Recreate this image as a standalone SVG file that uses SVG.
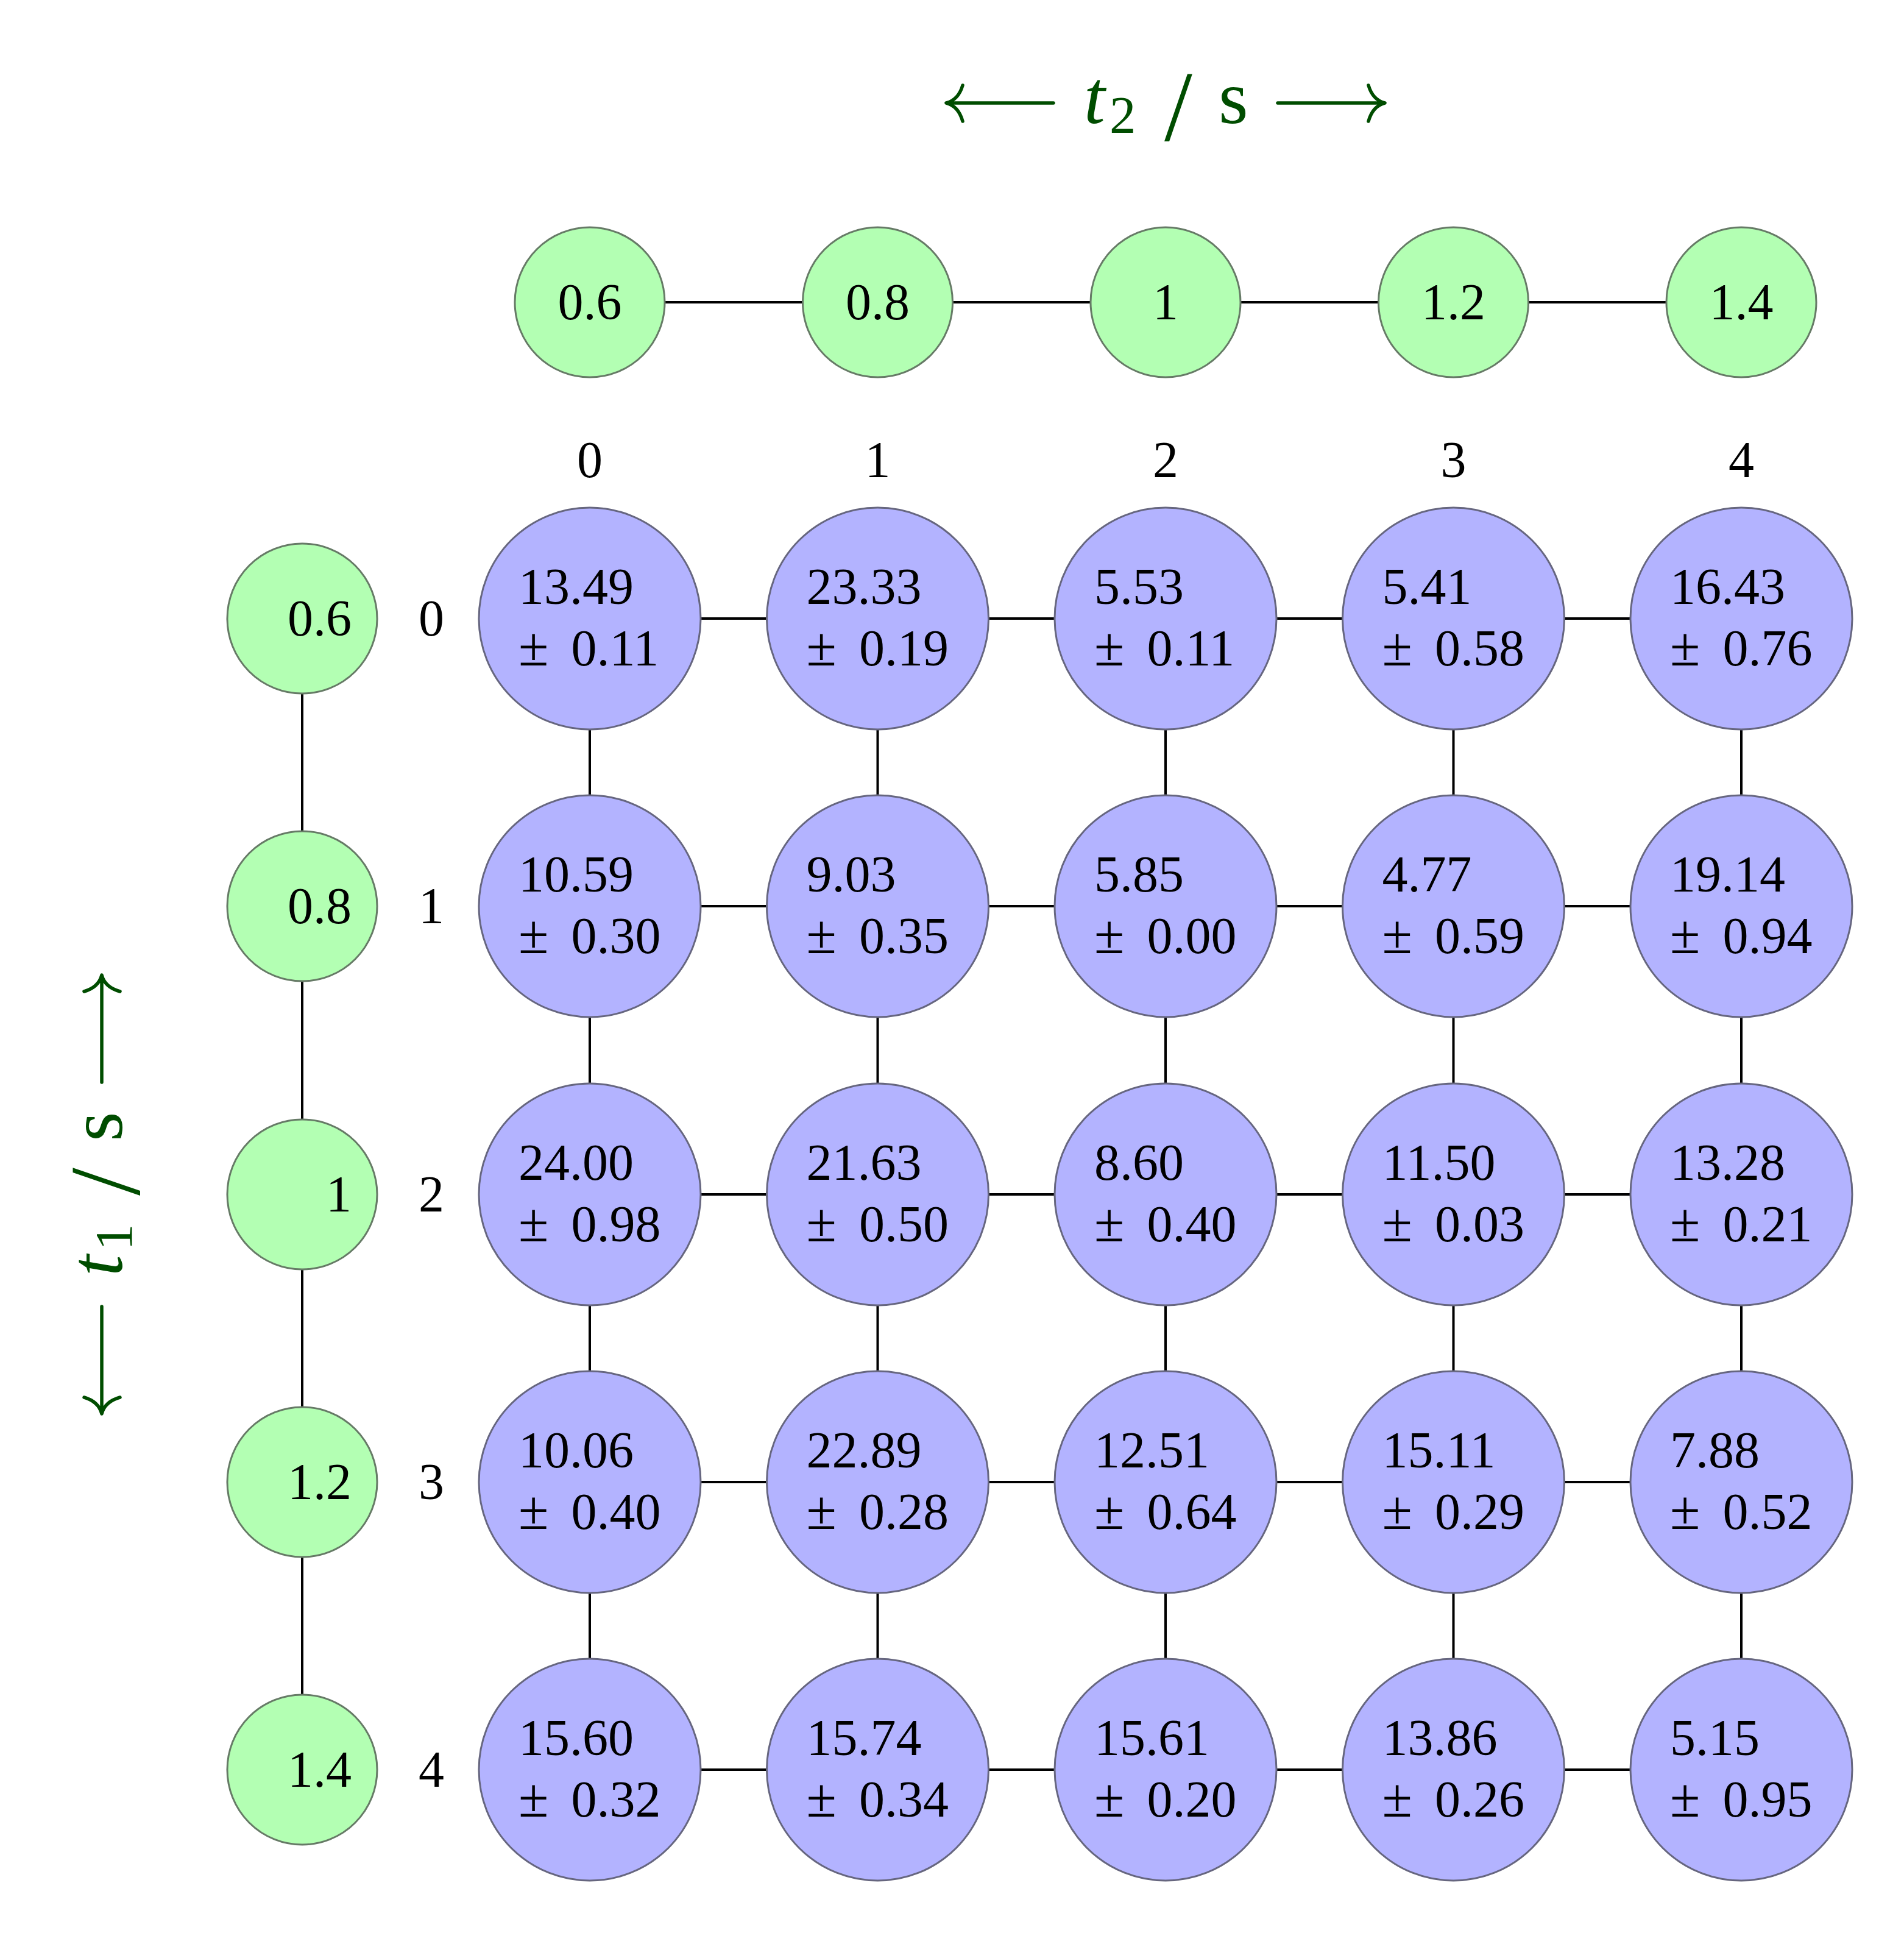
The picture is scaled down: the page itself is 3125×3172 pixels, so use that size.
<svg xmlns="http://www.w3.org/2000/svg" width="3125" height="3172" viewBox="0 0 3125 3172">
<style>
.bg{fill:#ffffff}
.edge{stroke:#000000;stroke-width:4;fill:none}
.gn{fill:#b3ffb3;stroke:#667a66;stroke-width:3}
.bn{fill:#b3b3ff;stroke:#66667f;stroke-width:3}
.t{font-family:"Liberation Serif","Times New Roman",serif;font-size:84px;fill:#000000}
.c{text-anchor:middle}
.e{text-anchor:end}
.pm{font-size:90px}
.ax{font-family:"Liberation Serif","Times New Roman",serif;font-size:125px;fill:#004d00}
.arr{stroke:#004d00;stroke-width:5.5;fill:none;stroke-linecap:round;stroke-linejoin:round}
</style>
<rect class="bg" x="0" y="0" width="3125" height="3172"/>

<g id="axis-t2" transform="translate(1913,202)">
<path class="arr" d="M-184,-33 L-358,-33 M-333,-62 Q-340,-38 -360,-33 Q-340,-28 -333,-3"/>
<text class="ax"><tspan x="-134" y="0" font-style="italic">t</tspan><tspan x="-92" y="16" font-size="87">2</tspan><tspan x="-2" y="28" font-size="165">/</tspan><tspan x="87" y="0">s</tspan></text>
<path class="arr" d="M184,-33 L358,-33 M333,-62 Q340,-38 360,-33 Q340,-28 333,-3"/>
</g>
<g id="axis-t1" transform="translate(200,1960) rotate(-90)">
<path class="arr" d="M-184,-33 L-358,-33 M-333,-62 Q-340,-38 -360,-33 Q-340,-28 -333,-3"/>
<text class="ax"><tspan x="-134" y="0" font-style="italic">t</tspan><tspan x="-92" y="16" font-size="87">1</tspan><tspan x="-2" y="28" font-size="165">/</tspan><tspan x="87" y="0">s</tspan></text>
<path class="arr" d="M184,-33 L358,-33 M333,-62 Q340,-38 360,-33 Q340,-28 333,-3"/>
</g>

<g id="connectors">
<line class="edge" x1="1091" y1="496" x2="1317.5" y2="496"/>
<line class="edge" x1="1563.5" y1="496" x2="1790" y2="496"/>
<line class="edge" x1="2036" y1="496" x2="2262.5" y2="496"/>
<line class="edge" x1="2508.5" y1="496" x2="2735" y2="496"/>
<line class="edge" x1="496" y1="1138" x2="496" y2="1364"/>
<line class="edge" x1="496" y1="1610" x2="496" y2="1837"/>
<line class="edge" x1="496" y1="2083" x2="496" y2="2309"/>
<line class="edge" x1="496" y1="2555" x2="496" y2="2781"/>
<line class="edge" x1="1150" y1="1015" x2="1258.5" y2="1015"/>
<line class="edge" x1="1622.5" y1="1015" x2="1731" y2="1015"/>
<line class="edge" x1="2095" y1="1015" x2="2203.5" y2="1015"/>
<line class="edge" x1="2567.5" y1="1015" x2="2676" y2="1015"/>
<line class="edge" x1="1150" y1="1487" x2="1258.5" y2="1487"/>
<line class="edge" x1="1622.5" y1="1487" x2="1731" y2="1487"/>
<line class="edge" x1="2095" y1="1487" x2="2203.5" y2="1487"/>
<line class="edge" x1="2567.5" y1="1487" x2="2676" y2="1487"/>
<line class="edge" x1="1150" y1="1960" x2="1258.5" y2="1960"/>
<line class="edge" x1="1622.5" y1="1960" x2="1731" y2="1960"/>
<line class="edge" x1="2095" y1="1960" x2="2203.5" y2="1960"/>
<line class="edge" x1="2567.5" y1="1960" x2="2676" y2="1960"/>
<line class="edge" x1="1150" y1="2432" x2="1258.5" y2="2432"/>
<line class="edge" x1="1622.5" y1="2432" x2="1731" y2="2432"/>
<line class="edge" x1="2095" y1="2432" x2="2203.5" y2="2432"/>
<line class="edge" x1="2567.5" y1="2432" x2="2676" y2="2432"/>
<line class="edge" x1="1150" y1="2904" x2="1258.5" y2="2904"/>
<line class="edge" x1="1622.5" y1="2904" x2="1731" y2="2904"/>
<line class="edge" x1="2095" y1="2904" x2="2203.5" y2="2904"/>
<line class="edge" x1="2567.5" y1="2904" x2="2676" y2="2904"/>
<line class="edge" x1="968" y1="1197" x2="968" y2="1305"/>
<line class="edge" x1="968" y1="1669" x2="968" y2="1778"/>
<line class="edge" x1="968" y1="2142" x2="968" y2="2250"/>
<line class="edge" x1="968" y1="2614" x2="968" y2="2722"/>
<line class="edge" x1="1440.5" y1="1197" x2="1440.5" y2="1305"/>
<line class="edge" x1="1440.5" y1="1669" x2="1440.5" y2="1778"/>
<line class="edge" x1="1440.5" y1="2142" x2="1440.5" y2="2250"/>
<line class="edge" x1="1440.5" y1="2614" x2="1440.5" y2="2722"/>
<line class="edge" x1="1913" y1="1197" x2="1913" y2="1305"/>
<line class="edge" x1="1913" y1="1669" x2="1913" y2="1778"/>
<line class="edge" x1="1913" y1="2142" x2="1913" y2="2250"/>
<line class="edge" x1="1913" y1="2614" x2="1913" y2="2722"/>
<line class="edge" x1="2385.5" y1="1197" x2="2385.5" y2="1305"/>
<line class="edge" x1="2385.5" y1="1669" x2="2385.5" y2="1778"/>
<line class="edge" x1="2385.5" y1="2142" x2="2385.5" y2="2250"/>
<line class="edge" x1="2385.5" y1="2614" x2="2385.5" y2="2722"/>
<line class="edge" x1="2858" y1="1197" x2="2858" y2="1305"/>
<line class="edge" x1="2858" y1="1669" x2="2858" y2="1778"/>
<line class="edge" x1="2858" y1="2142" x2="2858" y2="2250"/>
<line class="edge" x1="2858" y1="2614" x2="2858" y2="2722"/>
</g>

<g id="top-t2-nodes">
<g id="t2-0"><circle class="gn" cx="968" cy="496" r="123"/><text class="t c" x="968" y="524">0.6</text></g>
<g id="t2-1"><circle class="gn" cx="1440.5" cy="496" r="123"/><text class="t c" x="1440.5" y="524">0.8</text></g>
<g id="t2-2"><circle class="gn" cx="1913" cy="496" r="123"/><text class="t c" x="1913" y="524">1</text></g>
<g id="t2-3"><circle class="gn" cx="2385.5" cy="496" r="123"/><text class="t c" x="2385.5" y="524">1.2</text></g>
<g id="t2-4"><circle class="gn" cx="2858" cy="496" r="123"/><text class="t c" x="2858" y="524">1.4</text></g>
</g>

<g id="left-t1-nodes">
<g id="t1-0"><circle class="gn" cx="496" cy="1015" r="123"/><text class="t e" x="577" y="1043">0.6</text></g>
<g id="t1-1"><circle class="gn" cx="496" cy="1487" r="123"/><text class="t e" x="577" y="1515">0.8</text></g>
<g id="t1-2"><circle class="gn" cx="496" cy="1960" r="123"/><text class="t e" x="577" y="1988">1</text></g>
<g id="t1-3"><circle class="gn" cx="496" cy="2432" r="123"/><text class="t e" x="577" y="2460">1.2</text></g>
<g id="t1-4"><circle class="gn" cx="496" cy="2904" r="123"/><text class="t e" x="577" y="2932">1.4</text></g>
</g>

<g id="column-labels">
<text class="t c" x="968" y="783">0</text>
<text class="t c" x="1440.5" y="783">1</text>
<text class="t c" x="1913" y="783">2</text>
<text class="t c" x="2385.5" y="783">3</text>
<text class="t c" x="2858" y="783">4</text>
</g>
<g id="row-labels">
<text class="t c" x="708" y="1043">0</text>
<text class="t c" x="708" y="1515">1</text>
<text class="t c" x="708" y="1988">2</text>
<text class="t c" x="708" y="2460">3</text>
<text class="t c" x="708" y="2932">4</text>
</g>

<g id="grid-nodes">
<g id="n-0-0"><circle class="bn" cx="968" cy="1015" r="182"/><text class="t" x="851" y="991">13.49</text><text class="t" x="851" y="1092"><tspan class="pm">±</tspan><tspan dx="16"> 0.11</tspan></text></g>
<g id="n-0-1"><circle class="bn" cx="1440.5" cy="1015" r="182"/><text class="t" x="1323.5" y="991">23.33</text><text class="t" x="1323.5" y="1092"><tspan class="pm">±</tspan><tspan dx="16"> 0.19</tspan></text></g>
<g id="n-0-2"><circle class="bn" cx="1913" cy="1015" r="182"/><text class="t" x="1796" y="991">5.53</text><text class="t" x="1796" y="1092"><tspan class="pm">±</tspan><tspan dx="16"> 0.11</tspan></text></g>
<g id="n-0-3"><circle class="bn" cx="2385.5" cy="1015" r="182"/><text class="t" x="2268.5" y="991">5.41</text><text class="t" x="2268.5" y="1092"><tspan class="pm">±</tspan><tspan dx="16"> 0.58</tspan></text></g>
<g id="n-0-4"><circle class="bn" cx="2858" cy="1015" r="182"/><text class="t" x="2741" y="991">16.43</text><text class="t" x="2741" y="1092"><tspan class="pm">±</tspan><tspan dx="16"> 0.76</tspan></text></g>

<g id="n-1-0"><circle class="bn" cx="968" cy="1487" r="182"/><text class="t" x="851" y="1463">10.59</text><text class="t" x="851" y="1564"><tspan class="pm">±</tspan><tspan dx="16"> 0.30</tspan></text></g>
<g id="n-1-1"><circle class="bn" cx="1440.5" cy="1487" r="182"/><text class="t" x="1323.5" y="1463">9.03</text><text class="t" x="1323.5" y="1564"><tspan class="pm">±</tspan><tspan dx="16"> 0.35</tspan></text></g>
<g id="n-1-2"><circle class="bn" cx="1913" cy="1487" r="182"/><text class="t" x="1796" y="1463">5.85</text><text class="t" x="1796" y="1564"><tspan class="pm">±</tspan><tspan dx="16"> 0.00</tspan></text></g>
<g id="n-1-3"><circle class="bn" cx="2385.5" cy="1487" r="182"/><text class="t" x="2268.5" y="1463">4.77</text><text class="t" x="2268.5" y="1564"><tspan class="pm">±</tspan><tspan dx="16"> 0.59</tspan></text></g>
<g id="n-1-4"><circle class="bn" cx="2858" cy="1487" r="182"/><text class="t" x="2741" y="1463">19.14</text><text class="t" x="2741" y="1564"><tspan class="pm">±</tspan><tspan dx="16"> 0.94</tspan></text></g>

<g id="n-2-0"><circle class="bn" cx="968" cy="1960" r="182"/><text class="t" x="851" y="1936">24.00</text><text class="t" x="851" y="2037"><tspan class="pm">±</tspan><tspan dx="16"> 0.98</tspan></text></g>
<g id="n-2-1"><circle class="bn" cx="1440.5" cy="1960" r="182"/><text class="t" x="1323.5" y="1936">21.63</text><text class="t" x="1323.5" y="2037"><tspan class="pm">±</tspan><tspan dx="16"> 0.50</tspan></text></g>
<g id="n-2-2"><circle class="bn" cx="1913" cy="1960" r="182"/><text class="t" x="1796" y="1936">8.60</text><text class="t" x="1796" y="2037"><tspan class="pm">±</tspan><tspan dx="16"> 0.40</tspan></text></g>
<g id="n-2-3"><circle class="bn" cx="2385.5" cy="1960" r="182"/><text class="t" x="2268.5" y="1936">11.50</text><text class="t" x="2268.5" y="2037"><tspan class="pm">±</tspan><tspan dx="16"> 0.03</tspan></text></g>
<g id="n-2-4"><circle class="bn" cx="2858" cy="1960" r="182"/><text class="t" x="2741" y="1936">13.28</text><text class="t" x="2741" y="2037"><tspan class="pm">±</tspan><tspan dx="16"> 0.21</tspan></text></g>

<g id="n-3-0"><circle class="bn" cx="968" cy="2432" r="182"/><text class="t" x="851" y="2408">10.06</text><text class="t" x="851" y="2509"><tspan class="pm">±</tspan><tspan dx="16"> 0.40</tspan></text></g>
<g id="n-3-1"><circle class="bn" cx="1440.5" cy="2432" r="182"/><text class="t" x="1323.5" y="2408">22.89</text><text class="t" x="1323.5" y="2509"><tspan class="pm">±</tspan><tspan dx="16"> 0.28</tspan></text></g>
<g id="n-3-2"><circle class="bn" cx="1913" cy="2432" r="182"/><text class="t" x="1796" y="2408">12.51</text><text class="t" x="1796" y="2509"><tspan class="pm">±</tspan><tspan dx="16"> 0.64</tspan></text></g>
<g id="n-3-3"><circle class="bn" cx="2385.5" cy="2432" r="182"/><text class="t" x="2268.5" y="2408">15.11</text><text class="t" x="2268.5" y="2509"><tspan class="pm">±</tspan><tspan dx="16"> 0.29</tspan></text></g>
<g id="n-3-4"><circle class="bn" cx="2858" cy="2432" r="182"/><text class="t" x="2741" y="2408">7.88</text><text class="t" x="2741" y="2509"><tspan class="pm">±</tspan><tspan dx="16"> 0.52</tspan></text></g>

<g id="n-4-0"><circle class="bn" cx="968" cy="2904" r="182"/><text class="t" x="851" y="2880">15.60</text><text class="t" x="851" y="2981"><tspan class="pm">±</tspan><tspan dx="16"> 0.32</tspan></text></g>
<g id="n-4-1"><circle class="bn" cx="1440.5" cy="2904" r="182"/><text class="t" x="1323.5" y="2880">15.74</text><text class="t" x="1323.5" y="2981"><tspan class="pm">±</tspan><tspan dx="16"> 0.34</tspan></text></g>
<g id="n-4-2"><circle class="bn" cx="1913" cy="2904" r="182"/><text class="t" x="1796" y="2880">15.61</text><text class="t" x="1796" y="2981"><tspan class="pm">±</tspan><tspan dx="16"> 0.20</tspan></text></g>
<g id="n-4-3"><circle class="bn" cx="2385.5" cy="2904" r="182"/><text class="t" x="2268.5" y="2880">13.86</text><text class="t" x="2268.5" y="2981"><tspan class="pm">±</tspan><tspan dx="16"> 0.26</tspan></text></g>
<g id="n-4-4"><circle class="bn" cx="2858" cy="2904" r="182"/><text class="t" x="2741" y="2880">5.15</text><text class="t" x="2741" y="2981"><tspan class="pm">±</tspan><tspan dx="16"> 0.95</tspan></text></g>
</g>
</svg>
